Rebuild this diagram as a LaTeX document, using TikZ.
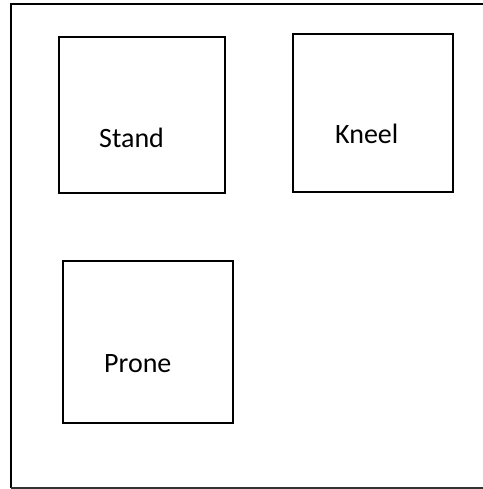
\documentclass[tikz,border=0pt]{standalone}
\usepackage{fontspec}
\setmainfont{Carlito}
\begin{document}
\begin{tikzpicture}[x=1pt,y=-1pt,
  posebox/.style={draw=black,line width=2pt,rectangle,inner sep=0pt,outer sep=0pt},
  poselabel/.style={anchor=base west,inner sep=0pt,font=\fontsize{28}{32}\selectfont}]
\useasboundingbox (0,0) rectangle (482,489);
\draw[line width=2pt] (495,4) -- (11,4) -- (11,488);
\draw[line width=1.6pt,black!80] (11,488) -- (495,488);
\node[posebox,minimum width=166pt,minimum height=156pt] (standbox) at (142,115) {};
\node[posebox,minimum width=160pt,minimum height=158pt] (kneelbox) at (373,113) {};
\node[posebox,minimum width=170pt,minimum height=162pt] (pronebox) at (148,342) {};
\node[poselabel] (stand) at (99,148) {Stand};
\node[poselabel] (kneel) at (335,143) {Kneel};
\node[poselabel] (prone) at (104,372) {Prone};
\end{tikzpicture}
\end{document}
